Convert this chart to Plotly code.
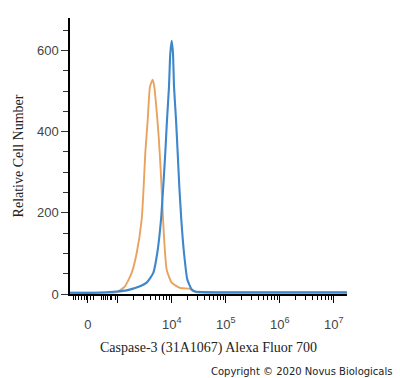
import math
import plotly.graph_objects as go

# x values are in decade units (log10 of fluorescence; 4 -> 10^4)
orange_x = [2.117, 2.6, 2.981, 3.135, 3.259, 3.352, 3.444, 3.481, 3.511, 3.556, 3.598, 3.648,
            3.678, 3.709, 3.759, 3.796, 3.826, 3.857, 3.907, 4.0, 4.154, 4.339, 4.45, 5.0, 6.0, 7.246]
orange_y = [3, 3, 4, 19, 52, 101, 183, 265, 347, 429, 511, 528,
            511, 470, 388, 306, 224, 142, 60, 28, 15, 13, 5, 3, 3, 3]

blue_x = [2.117, 2.6, 2.981, 3.167, 3.413, 3.537, 3.659, 3.733, 3.802, 3.844, 3.881, 3.913, 3.95,
          3.974, 4.0, 4.024, 4.043, 4.08, 4.111, 4.141, 4.178, 4.228, 4.289, 4.37, 4.43, 5.0, 6.0, 7.246]
blue_y = [3, 3, 6, 9, 19, 28, 52, 101, 183, 265, 347, 429, 511,
          593, 624, 593, 511, 429, 347, 265, 183, 101, 36, 11, 6, 4, 4, 4]

x_major_vals = [2.45, 3, 4, 5, 6, 7]
x_major_text = ["0", "", "10<sup>4</sup>", "10<sup>5</sup>", "10<sup>6</sup>", "10<sup>7</sup>"]
x_low_minor = [2.178, 2.21, 2.272, 2.333, 2.381, 2.426, 2.488, 2.549, 2.704, 2.735,
               2.765, 2.815, 2.858, 2.889, 2.954]
decade_starts = [3, 4, 5, 6]
decade_mults = [2, 3, 4, 5, 6, 7, 8, 9]

x_minor = list(x_low_minor) + [d + math.log10(k) for d in decade_starts for k in decade_mults]

fig = go.Figure()
fig.add_trace(go.Scatter(x=orange_x, y=orange_y, mode="lines",
                         line=dict(color="#E9A35E", width=1.9, shape="spline", smoothing=0.5),
                         showlegend=False, hoverinfo="skip"))
fig.add_trace(go.Scatter(x=blue_x, y=blue_y, mode="lines",
                         line=dict(color="#3D87CC", width=2.1, shape="spline", smoothing=0.5),
                         showlegend=False, hoverinfo="skip"))

fig.update_layout(
    width=400, height=378,
    margin=dict(l=70, r=53, t=18, b=84),
    paper_bgcolor="white", plot_bgcolor="white",
    showlegend=False,
    xaxis=dict(
        range=[2.117, 7.246], showgrid=False, zeroline=False, automargin=False,
        showline=True, linecolor="black", linewidth=2,
        tickmode="array", tickvals=x_major_vals, ticktext=x_major_text,
        ticks="outside", ticklen=7, tickwidth=1.2, tickcolor="black",
        tickfont=dict(family="Liberation Sans, Arial", size=13, color="#444"),
        ticklabelstandoff=10,
        minor=dict(tickmode="array", tickvals=x_minor, ticks="outside", ticklen=4,
                   tickwidth=1, tickcolor="black", showgrid=False),
        title=dict(text="Caspase-3 (31A1067) Alexa Fluor 700",
                   font=dict(family="Liberation Serif, Times New Roman", size=14, color="#222"),
                   standoff=12),
    ),
    yaxis=dict(
        range=[0, 680], showgrid=False, zeroline=False, automargin=False,
        showline=True, linecolor="black", linewidth=1.5,
        tickmode="linear", tick0=0, dtick=200,
        ticks="outside", ticklen=7, tickwidth=1, tickcolor="#333",
        tickfont=dict(family="Liberation Sans, Arial", size=13, color="#444"),
        minor=dict(dtick=50, tick0=0, ticks="outside", ticklen=5, tickwidth=1,
                   tickcolor="#333", showgrid=False),
        title=dict(text="Relative Cell Number",
                   font=dict(family="Liberation Serif, Times New Roman", size=14, color="#222"),
                   standoff=10),
    ),
    annotations=[dict(text="Copyright © 2020 Novus Biologicals", xref="paper", yref="paper",
                      x=1.17, y=-0.28, xanchor="right", yanchor="middle", showarrow=False,
                      font=dict(family="DejaVu Sans, Verdana", size=10, color="#222"))],
)

fig.write_html("out.html", config={"displayModeBar": False},
               post_script="document.body.style.margin='0px';")
